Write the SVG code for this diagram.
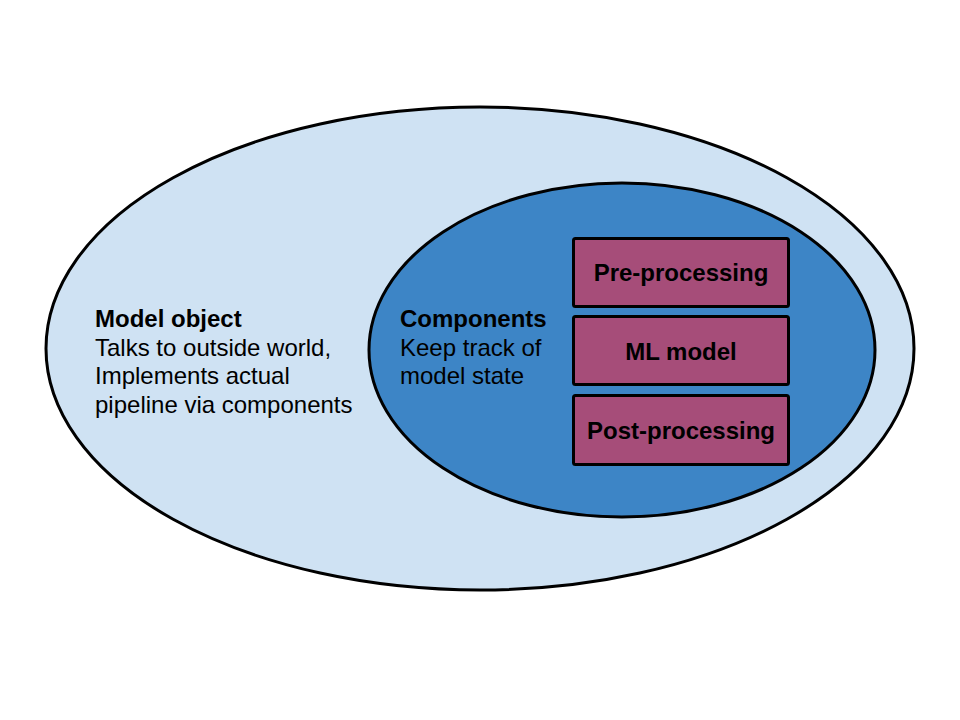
<svg xmlns="http://www.w3.org/2000/svg" width="960" height="720" viewBox="0 0 960 720">
<style>
.ell{stroke:#000;stroke-width:3}
.box{fill:#a64d79;stroke:#000;stroke-width:3}
text{font-family:"Liberation Sans",Arial,sans-serif;font-size:24px;fill:#000}
.b{font-weight:bold}
.c{text-anchor:middle;font-weight:bold}
</style>
<rect width="960" height="720" fill="#fff"/>
<g id="model-object">
<ellipse class="ell" cx="480" cy="348.5" rx="434" ry="241.5" fill="#cfe2f3"/>
<text x="95" y="327" class="b">Model object</text>
<text x="95" y="355.5">Talks to outside world,</text>
<text x="95" y="384">Implements actual</text>
<text x="95" y="412.5">pipeline via components</text>
</g>
<g id="components">
<ellipse class="ell" cx="622" cy="350" rx="253" ry="167" fill="#3d85c6"/>
<text x="400" y="327" class="b">Components</text>
<text x="400" y="355.5">Keep track of</text>
<text x="400" y="384">model state</text>
</g>
<g id="pre-processing">
<rect class="box" x="573.5" y="238.5" width="215" height="68" rx="2"/>
<text x="681" y="281" class="c">Pre-processing</text>
</g>
<g id="ml-model">
<rect class="box" x="573.5" y="316.5" width="215" height="68" rx="2"/>
<text x="681" y="359.5" class="c">ML model</text>
</g>
<g id="post-processing">
<rect class="box" x="573.5" y="395.5" width="215" height="69" rx="2"/>
<text x="681" y="438.5" class="c">Post-processing</text>
</g>
<g id="connectors"></g>
</svg>
